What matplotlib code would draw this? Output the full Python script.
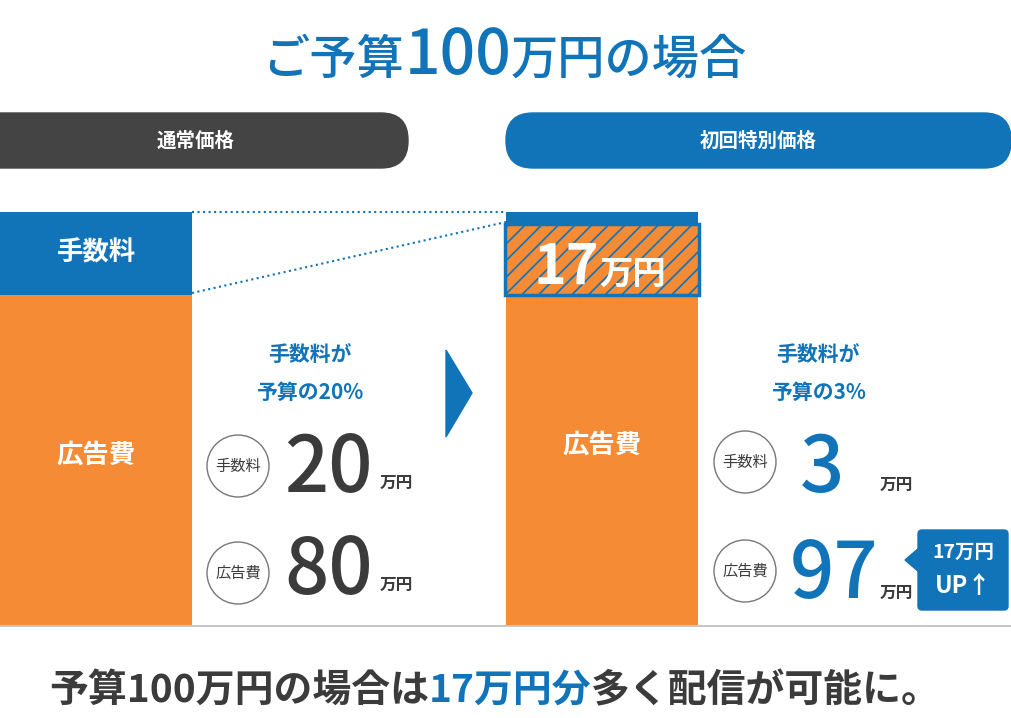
import matplotlib
matplotlib.use("Agg")
import matplotlib.pyplot as plt
from matplotlib.patches import FancyBboxPatch, Circle, Polygon

plt.rcParams['font.family'] = ['Noto Sans CJK JP', 'DejaVu Sans']
plt.rcParams['hatch.linewidth'] = 1.2

ORANGE = '#F58B34'
BLUE = '#1173B8'
DARK = '#444444'
TXT = '#3b3b3b'

# data (万円, budget 100)
plans = ['通常価格', '初回特別価格']
fee = [20, 3]
ad = [80, 97]
bonus = 17

fig = plt.figure(figsize=(10.11, 7.18), dpi=100)

# bar axes: values 0..100 mapped to pixel rows 625..212
bx = fig.add_axes([0, (718 - 625) / 718, 1, 413 / 718])
bx.set_xlim(0, 1011)
bx.set_ylim(0, 100)
bx.axis('off')
xs = [96, 602]
base_ad = [ad[0], ad[1] - bonus]
bx.bar(xs, base_ad, width=192, color=ORANGE, linewidth=0)
bx.bar(xs[1], bonus, bottom=base_ad[1], width=192, color=ORANGE,
       hatch='//', edgecolor=BLUE, linewidth=0)
bx.bar(xs[1], bonus, bottom=base_ad[1], width=194, fill=False,
       edgecolor=BLUE, linewidth=2.5)
bx.bar(xs, fee, bottom=ad, width=192, color=BLUE, linewidth=0)

ax = fig.add_axes([0, 0, 1, 1])
ax.set_xlim(0, 1011)
ax.set_ylim(718, 0)
ax.axis('off')
ax.patch.set_alpha(0)
r = fig.canvas.get_renderer()


def row(pieces, x, y, align='center', weight='bold'):
    ts = []
    for s, size, col in pieces:
        ts.append(ax.text(0, y, s, fontsize=size, color=col, weight=weight,
                          va='baseline', ha='left'))
    ws = [t.get_window_extent(r).width for t in ts]
    tot = sum(ws)
    cx = x - tot / 2 if align == 'center' else x
    for t, w in zip(ts, ws):
        t.set_x(cx)
        cx += w


# title
row([('ご予算', 34, BLUE), ('100', 45, BLUE), ('万円の場合', 34, BLUE)], 505, 74, weight='medium')

# pills
ax.add_patch(FancyBboxPatch((-40, 113), 448, 55, boxstyle='round,pad=0,rounding_size=27',
                            color=DARK))
ax.add_patch(FancyBboxPatch((506, 113), 505, 55, boxstyle='round,pad=0,rounding_size=27',
                            color=BLUE))
ax.text(196, 141, plans[0], fontsize=14, color='white', weight='bold', ha='center', va='center')
ax.text(758, 141, plans[1], fontsize=14, color='white', weight='bold', ha='center', va='center')

# dotted guides
ax.plot([192, 506], [212, 212], ls=':', color=BLUE, lw=1.5)
ax.plot([192, 506], [293, 222], ls=':', color=BLUE, lw=1.5)

# bar labels
ax.text(96, 253, '手数料', fontsize=19, color='white', weight='bold', ha='center', va='center')
ax.text(96, 455, '広告費', fontsize=19, color='white', weight='bold', ha='center', va='center')
ax.text(602, 445, '広告費', fontsize=19, color='white', weight='bold', ha='center', va='center')
row([(str(bonus), 40, 'white'), ('万円', 24, 'white')], 600, 284)

# arrow
ax.add_patch(Polygon([(446, 350), (472, 393), (446, 437)], color=BLUE))

# details
ax.text(310, 355, '手数料が', fontsize=15, color=BLUE, weight='bold', ha='center', va='center')
ax.text(310, 392, '予算の%d%%' % fee[0], fontsize=15, color=BLUE, weight='bold', ha='center', va='center')
ax.text(818, 355, '手数料が', fontsize=15, color=BLUE, weight='bold', ha='center', va='center')
ax.text(818, 392, '予算の%d%%' % fee[1], fontsize=15, color=BLUE, weight='bold', ha='center', va='center')

for cx, cy, lab in [(238, 466, '手数料'), (238, 573, '広告費'), (745, 462, '手数料'), (745, 571, '広告費')]:
    ax.add_patch(Circle((cx, cy), 31, facecolor='white', edgecolor='#777777', lw=1))
    ax.text(cx, cy, lab, fontsize=11, color=TXT, ha='center', va='center')

row([(str(fee[0]), 56, TXT)], 284, 492, align='left', weight='medium')
row([(str(ad[0]), 56, TXT)], 284, 594, align='left', weight='medium')
ax.text(380, 488, '万円', fontsize=12, color=TXT, weight='bold')
ax.text(380, 590, '万円', fontsize=12, color=TXT, weight='bold')
row([(str(fee[1]), 56, BLUE)], 800, 492, align='left', weight='medium')
row([(str(ad[1]), 56, BLUE)], 790, 598, align='left', weight='medium')
ax.text(880, 490, '万円', fontsize=12, color=TXT, weight='bold')
ax.text(880, 598, '万円', fontsize=12, color=TXT, weight='bold')

# callout
ax.add_patch(FancyBboxPatch((918, 530), 90, 80, boxstyle='round,pad=0,rounding_size=4', color=BLUE))
ax.add_patch(Polygon([(919, 548), (905, 560), (919, 572)], color=BLUE))
ax.text(963, 552, '%d万円' % bonus, fontsize=14, color='white', weight='bold', ha='center', va='center')
ax.text(963, 586, 'UP↑', fontsize=17, color='white', weight='bold', ha='center', va='center')

# baseline and bottom message
ax.plot([0, 1011], [626, 626], color='#bbbbbb', lw=1.2)
row([('予算100万円の場合は', 28, TXT), ('%d万円分' % bonus, 28, BLUE),
     ('多く配信が可能に。', 28, TXT)], 495, 702)

fig.savefig('out.png', dpi=100)
